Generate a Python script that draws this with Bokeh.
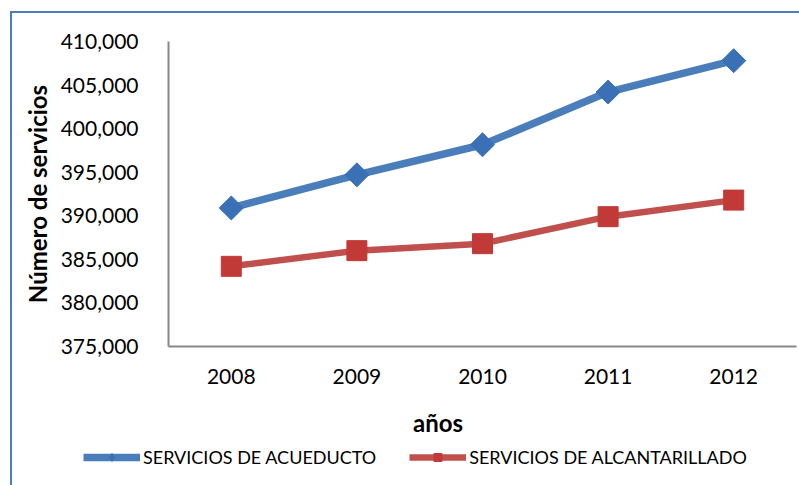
from bokeh.plotting import figure
from bokeh.layouts import column
from bokeh.models import (Range1d, FactorRange, FixedTicker, NumeralTickFormatter,
                          Legend, LegendItem, Label, ColumnDataSource, InlineStyleSheet)
from bokeh.embed import file_html
from bokeh.resources import INLINE

years = ["2008", "2009", "2010", "2011", "2012"]
acueducto = [390900, 394700, 398150, 404200, 407800]
alcantarillado = [384200, 386000, 386800, 389900, 391800]
y_ticks = [375000, 380000, 385000, 390000, 395000, 400000, 405000, 410000]
series_names = ["SERVICIOS DE ACUEDUCTO", "SERVICIOS DE ALCANTARILLADO"]
x_title = "años"
y_title = "Número de servicios"

FONT = "Lato"
BLUE_LINE = "#4A7EBB"
BLUE_MARK = "#3A70B6"
RED_LINE = "#C0504D"
RED_MARK = "#C23A37"
BORDER = "#4A7EBB"

src = ColumnDataSource(dict(x=years, a=acueducto, b=alcantarillado))

p = figure(width=799, height=390,
           x_range=FactorRange(factors=years, range_padding=0),
           y_range=Range1d(y_ticks[0], y_ticks[-1]),
           output_backend="svg", toolbar_location=None,
           min_border_left=168, min_border_right=3,
           min_border_top=41, min_border_bottom=44)
p.xgrid.visible = False
p.ygrid.visible = False
p.outline_line_color = None
p.background_fill_color = "white"
p.border_fill_color = "white"

for ax in (p.xaxis[0], p.yaxis[0]):
    ax.major_tick_line_color = None
    ax.minor_tick_line_color = None
    ax.axis_line_color = "#878787"
    ax.axis_line_width = 2
    ax.major_label_text_font = FONT
    ax.major_label_text_font_size = "21px"
    ax.major_label_text_color = "#000000"

p.yaxis.ticker = FixedTicker(ticks=y_ticks)
p.yaxis.formatter = NumeralTickFormatter(format="0,0")
p.yaxis.major_label_standoff = 24
p.yaxis.axis_label = y_title
p.yaxis.axis_label_text_font = FONT
p.yaxis.axis_label_text_font_style = "bold"
p.yaxis.axis_label_text_font_size = "24px"
p.yaxis.axis_label_text_color = "#000000"
p.yaxis.axis_label_standoff = 6

p.xaxis.major_label_standoff = 16

bl = p.line("x", "a", source=src, line_color=BLUE_LINE, line_width=7.5)
bm = p.scatter("x", "a", source=src, marker="square", angle=0.785398, size=17,
               fill_color=BLUE_MARK, line_color=BLUE_MARK)
rl = p.line("x", "b", source=src, line_color=RED_LINE, line_width=6.5)
rm = p.scatter("x", "b", source=src, marker="square", size=20,
               fill_color=RED_MARK, line_color=RED_MARK)

p.stylesheets = [InlineStyleSheet(css=f"""
:host {{ position: relative; }}
:host::after {{
  content: "";
  position: absolute;
  left: 10px; top: 11px; right: 0px; bottom: 0px;
  border-top: 2.5px solid {BORDER};
  border-left: 2.5px solid {BORDER};
  pointer-events: none;
  z-index: 10;
}}
""")]

# lower strip: x-axis title and legend (separate figure so they are not clipped)
p2 = figure(width=799, height=95,
            x_range=FactorRange(factors=years, range_padding=0), y_range=Range1d(0, 1),
            output_backend="svg", toolbar_location=None,
            x_axis_location=None, y_axis_location=None,
            min_border=0, min_border_left=0, min_border_right=0,
            min_border_top=0, min_border_bottom=0)
for fig in (p, p2):
    if "frame_align" in fig.properties():
        fig.frame_align = False
p2.xgrid.visible = False
p2.ygrid.visible = False
p2.outline_line_color = None
p2.background_fill_color = "white"
p2.border_fill_color = "white"
lbl = p2.line("x", "a", source=src, line_color=BLUE_LINE, line_width=7.5)
lbm = p2.scatter("x", "a", source=src, marker="diamond", size=17,
                 fill_color=BLUE_MARK, line_color=BLUE_MARK)
lrl = p2.line("x", "b", source=src, line_color=RED_LINE, line_width=6.5)
lrm = p2.scatter("x", "b", source=src, marker="square", size=20,
                 fill_color=RED_MARK, line_color=RED_MARK)

p2.add_layout(Label(x=437.5, y=63, x_units="screen", y_units="screen", text=x_title,
                    text_font=FONT, text_font_style="bold", text_font_size="24px",
                    text_align="center", text_baseline="middle", text_color="#000000"))

legend = Legend(items=[LegendItem(label=series_names[0], renderers=[lbl, lbm]),
                       LegendItem(label=series_names[1], renderers=[lrl, lrm])],
                location=(83, 17), orientation="horizontal",
                glyph_width=57, glyph_height=20, label_standoff=3, spacing=33,
                padding=0, margin=0, border_line_color=None, background_fill_alpha=0,
                label_text_font=FONT, label_text_font_size="18px", label_text_color="#000000")
p2.add_layout(legend, "center")
p2.stylesheets = [InlineStyleSheet(css=f"""
:host {{ position: relative; }}
:host::after {{
  content: "";
  position: absolute;
  left: 10px; top: 0px; right: 0px; bottom: 0px;
  border-left: 2.5px solid {BORDER};
  pointer-events: none;
  z-index: 10;
}}
""")]

layout = column(p, p2, spacing=0)
open("out.html", "w").write(file_html(layout, INLINE))
